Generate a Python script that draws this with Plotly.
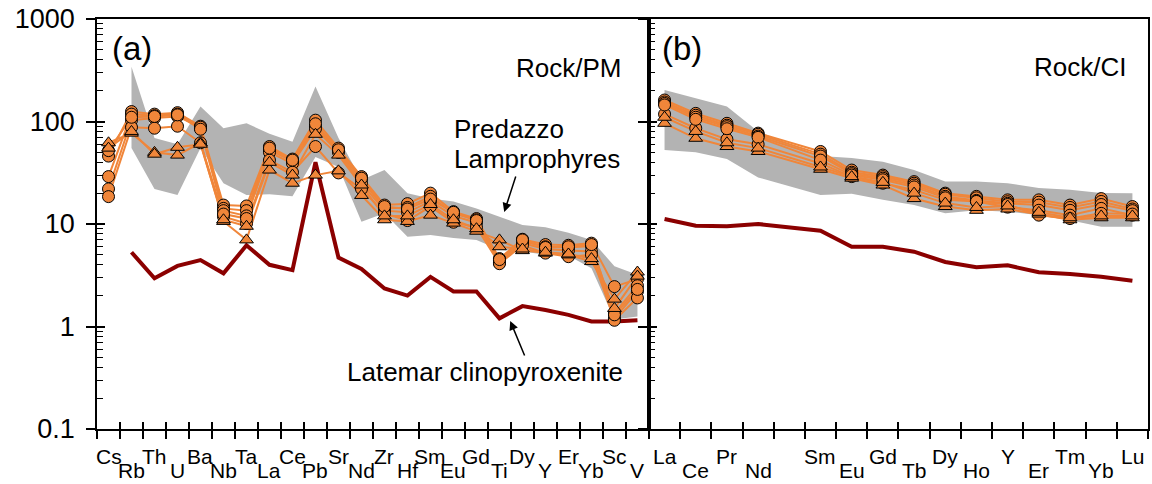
import plotly.graph_objects as go

# ---------------- data ----------------
elems_a = ["Cs", "Rb", "Th", "U", "Ba", "Nb", "Ta", "La", "Ce", "Pb", "Sr", "Nd",
           "Zr", "Hf", "Sm", "Eu", "Gd", "Ti", "Dy", "Y", "Er", "Yb", "Sc", "V"]
elems_b = ["La", "Ce", "Pr", "Nd", "", "Sm", "Eu", "Gd", "Tb", "Dy", "Ho", "Y",
           "Er", "Tm", "Yb", "Lu"]

ytick_vals = [0.1, 1, 10, 100, 1000]
ytick_text = ["0.1", "1", "10", "100", "1000"]
yminor_vals = [m * d for d in [0.1, 1, 10, 100] for m in range(2, 10)]

# Predazzo lamprophyres, Rock/PM (panel a)
a_c1 = [46, 125, 118, 122, 90, 15.3, 15, 57, 43, 103, 55, 29, 15.3, 15.8, 20, 13.2, 11.3, 4.6, 7.1, 6.3, 6.2, 6.5, 2.45, 2.9]
a_c2 = [29, 118, 114, 118, 86, 14.2, 13.5, 53, 41, 90, 52, 27.5, 14.2, 14.5, 18.6, 12.7, 11, 4.4, 6.8, 6.0, 5.9, 6.1, 1.35, 2.5]
a_c3 = [22, 103, 108, 112, 88, 13.5, 12, 50, 39, 85, 50, 25, 13.5, 13, 16.6, 12, 10.3, 4.2, 6.5, 5.7, 5.5, 5.4, 1.2, 2.2]
a_c4 = [18.5, 88, 86, 90, 62, 11.8, 10.1, 42, 32, 57, 31.5, 22, 12.7, 10.8, 14.8, 10.4, 9.3, 4.1, 6.2, 5.2, 4.8, 5.0, 1.15, 1.9]
a_c5 = [52, 110, 112, 116, 84, 12.5, 11.3, 55, 42, 95, 53, 28, 14.8, 14, 17.5, 13, 10.8, 4.5, 7.0, 5.9, 6.0, 6.3, 1.3, 2.3]
a_t1 = [62, 77, 50, 47, 62, 10.6, 7.0, 33.6, 25, 30, 33, 19, 11, 10.6, 12.2, 10.2, 8.5, 7.0, 5.5, 5.2, 5.0, 4.3, 1.85, 3.4]
a_t2 = [55, 80, 48, 56, 60, 11, 9.5, 40, 30, 75, 47, 24, 12, 12, 15.5, 11, 9, 6.0, 5.7, 5.3, 5.1, 4.6, 1.5, 3.1]

# Predazzo lamprophyres, Rock/CI (panel b); Pm not analysed
b_c1 = [162, 120, 96, 77, None, 51, 33.6, 30, 25.9, 20, 18.6, 17.2, 17.2, 15.3, 17.7, 14.8]
b_c2 = [155, 115, 92, 75, None, 48, 32, 29, 25, 19.5, 18, 16.5, 16.3, 14.5, 16.6, 14]
b_c3 = [150, 110, 89, 72, None, 46, 31, 28, 24, 18.6, 17, 15.9, 15.3, 13.6, 15.5, 13.5]
b_c4 = [118, 86, 67, 60, None, 39, 29, 25, 21.5, 17.2, 16.6, 14.6, 13.6, 12.2, 14.2, 12.2]
b_c5 = [145, 105, 85, 70, None, 42, 30, 27, 23, 18, 16.6, 15.5, 12.2, 11.3, 12.7, 12.5]
b_t1 = [96, 68.6, 57, 51, None, 34.2, 28, 24, 17.7, 14.8, 13.6, 14, 12.5, 11, 11.5, 11.5]
b_t2 = [110, 80, 62, 55, None, 36, 29, 25.5, 20, 16, 14.5, 15, 13, 11.5, 12, 12]

samples_a = [a_c1, a_c2, a_c3, a_c4, a_c5, a_t1, a_t2]
samples_b = [b_c1, b_c2, b_c3, b_c4, b_c5, b_t1, b_t2]
sample_symbols = ["circle", "circle", "circle", "circle", "circle", "triangle-up", "triangle-up"]

# Grey field (literature lamprophyres)
field_a_upper = [None, 343, 69, 60, 140, 86, 96, 76, 63.5, 219, 69, 26.8, 33.6, 20, 17.7, 16.6, 14.2, 11.8, 9.8, 9.3, 8.2, 7.0, 3.87, 3.2]
field_a_lower = [None, 55, 22, 19.2, 55, 25, 19.2, 19.5, 18.6, 45, 36, 10.5, 12.7, 7.5, 7.8, 7.3, 7.0, 5.6, 5.4, 5.0, 4.9, 3.7, 1.17, 1.25]
field_b_upper = [203, 168, 140, 80, None, 46, 44, 40.5, 33.6, 26, 26, 25, 22.4, 21.6, 20.1, 20]
field_b_lower = [52.7, 50, 43, 28.5, None, 19.2, 19.7, 17.2, 15.3, 12.7, 13.6, 13.2, 12.2, 10.9, 9.4, 9.4]

# Latemar clinopyroxenite
latemar_a = [None, 5.3, 2.95, 3.9, 4.45, 3.3, 6.2, 4.0, 3.55, 40, 4.7, 3.65, 2.35, 2.0, 3.05, 2.2, 2.2, 1.2, 1.58, 1.45, 1.3, 1.12, 1.12, 1.15]
latemar_b = [11.2, 9.6, 9.5, 10.0, None, 8.6, 6.0, 6.0, 5.37, 4.26, 3.78, 3.95, 3.38, 3.26, 3.06, 2.8]

# ---------------- style ----------------
W, H = 1152, 484
ML, MR, MT, MB = 97, 2, 19, 55
PW, PH = W - ML - MR, H - MT - MB
SPLIT = 650
ORANGE = "#F0863A"
GREY = "#B3B3B3"
DARKRED = "#8B0000"
FONT = "Liberation Sans, Arial, sans-serif"


def px(xp):
    return (xp - ML) / PW


def py(yp):
    return (H - MB - yp) / PH


da = px(SPLIT)

fig = go.Figure()


def add_field(elems, upper, lower, xa, ya):
    idx = [i for i in range(len(elems)) if upper[i] is not None]
    xs = idx + idx[::-1]
    ys = [upper[i] for i in idx] + [lower[i] for i in idx[::-1]]
    fig.add_trace(go.Scatter(x=xs, y=ys, fill="toself", fillcolor=GREY, mode="lines",
                             line=dict(width=0, color=GREY), xaxis=xa, yaxis=ya,
                             showlegend=False, hoverinfo="skip"))


add_field(elems_a, field_a_upper, field_a_lower, "x", "y")
add_field(elems_b, field_b_upper, field_b_lower, "x2", "y2")

fig.add_trace(go.Scatter(x=list(range(len(elems_a))), y=latemar_a, mode="lines",
                         line=dict(color=DARKRED, width=4), connectgaps=False,
                         xaxis="x", yaxis="y", showlegend=False))
fig.add_trace(go.Scatter(x=list(range(len(elems_b))), y=latemar_b, mode="lines",
                         line=dict(color=DARKRED, width=4), connectgaps=True,
                         xaxis="x2", yaxis="y2", showlegend=False))

for elems, samples, xa, ya in [(elems_a, samples_a, "x", "y"), (elems_b, samples_b, "x2", "y2")]:
    xs = list(range(len(elems)))
    for s in samples:
        fig.add_trace(go.Scatter(x=xs, y=s, mode="lines", connectgaps=True,
                                 line=dict(color=ORANGE, width=2),
                                 xaxis=xa, yaxis=ya, showlegend=False))
    for s, sym in zip(samples, sample_symbols):
        fig.add_trace(go.Scatter(x=xs, y=s, mode="markers",
                                 marker=dict(symbol=sym, size=12, color=ORANGE,
                                             line=dict(color="black", width=1)),
                                 xaxis=xa, yaxis=ya, showlegend=False))

# dummy traces so overlay axes are drawn
for xa, ya in [("x3", "y3"), ("x4", "y4")]:
    fig.add_trace(go.Scatter(x=[None], y=[None], xaxis=xa, yaxis=ya,
                             showlegend=False, hoverinfo="skip"))

na, nb = len(elems_a), len(elems_b)
bounds_a = [i - 0.5 for i in range(na + 1)]
bounds_b = [i - 0.5 for i in range(nb + 1)]

base_ax = dict(showgrid=False, zeroline=False, linecolor="black", linewidth=1.5,
               tickcolor="black", tickwidth=1.5)

xaxis = dict(base_ax, domain=[0, da], range=[-0.5, na - 0.5], anchor="y", mirror=True,
             showline=True, tickmode="array", tickvals=bounds_a, ticks="outside",
             ticklen=8, showticklabels=False)
xaxis2 = dict(base_ax, domain=[da, 1], range=[-0.5, nb - 0.5], anchor="y2", mirror=True,
              showline=True, tickmode="array", tickvals=bounds_b, ticks="outside",
              ticklen=8, showticklabels=False)
xaxis3 = dict(base_ax, overlaying="x", range=[-0.5, na - 0.5], anchor="y",
              showline=False, tickmode="array", tickvals=bounds_a, ticks="inside",
              ticklen=7, showticklabels=False)
xaxis4 = dict(base_ax, overlaying="x2", range=[-0.5, nb - 0.5], anchor="y2",
              showline=False, tickmode="array", tickvals=bounds_b, ticks="inside",
              ticklen=7, showticklabels=False)

minor = dict(tickmode="array", tickvals=yminor_vals, ticks="inside", ticklen=6,
             tickcolor="black", tickwidth=1.2, showgrid=False)

yaxis = dict(base_ax, type="log", range=[-1, 3], domain=[0, 1], anchor="x",
             showline=True, mirror=True, tickmode="array", tickvals=ytick_vals,
             ticktext=ytick_text, ticks="outside", ticklen=9,
             tickfont=dict(size=27, family=FONT, color="black"),
             ticklabelstandoff=6, minor=minor)
yaxis2 = dict(base_ax, type="log", range=[-1, 3], domain=[0, 1], anchor="x2",
              showline=True, mirror=True, tickmode="array", tickvals=ytick_vals,
              ticks="outside", ticklen=9, showticklabels=False, minor=minor)
yaxis3 = dict(base_ax, type="log", range=[-1, 3], overlaying="y", anchor="x",
              showline=False, tickmode="array", tickvals=ytick_vals, ticks="inside",
              ticklen=8, showticklabels=False)
yaxis4 = dict(base_ax, type="log", range=[-1, 3], overlaying="y2", anchor="x2",
              showline=False, tickmode="array", tickvals=ytick_vals, ticks="inside",
              ticklen=8, showticklabels=False)

annotations = []
UP = py(456)
LOW_BOTTOM = py(H - 0.5)
lbl_font = dict(size=21, family=FONT, color="black")


def add_label(x, xref, upper, name):
    if upper:
        annotations.append(dict(x=x, xref=xref, y=UP, yref="paper", text=name,
                                showarrow=False, xanchor="center", yanchor="middle",
                                font=lbl_font))
    else:
        annotations.append(dict(x=x, xref=xref, y=LOW_BOTTOM, yref="paper", text=name,
                                showarrow=False, xanchor="center", yanchor="bottom",
                                font=lbl_font, borderpad=0))


for i, name in enumerate(elems_a):
    add_label(i, "x", i % 2 == 0, name)
k = 0
for i, name in enumerate(elems_b):
    if not name:
        continue
    add_label(i, "x2", k % 2 == 0, name)
    k += 1

big = dict(size=33, family=FONT, color="black")
txt = dict(size=26, family=FONT, color="black")
annotations += [
    dict(x=px(110), y=py(49), xref="paper", yref="paper", text="(a)", showarrow=False,
         xanchor="left", yanchor="middle", font=big),
    dict(x=px(661), y=py(49), xref="paper", yref="paper", text="(b)", showarrow=False,
         xanchor="left", yanchor="middle", font=big),
    dict(x=px(624), y=py(68), xref="paper", yref="paper", text="Rock/PM", showarrow=False,
         xanchor="right", yanchor="middle", font=txt),
    dict(x=px(1130), y=py(67), xref="paper", yref="paper", text="Rock/CI", showarrow=False,
         xanchor="right", yanchor="middle", font=txt),
    dict(x=px(453), y=py(129), xref="paper", yref="paper", text="Predazzo", showarrow=False,
         xanchor="left", yanchor="middle", font=txt),
    dict(x=px(453), y=py(159), xref="paper", yref="paper", text="Lamprophyres", showarrow=False,
         xanchor="left", yanchor="middle", font=txt),
    dict(x=px(345), y=py(372), xref="paper", yref="paper", text="Latemar clinopyroxenite",
         showarrow=False, xanchor="left", yanchor="middle", font=txt),
    dict(x=px(505), y=py(212), xref="paper", yref="paper", text="", showarrow=True,
         ax=12, ay=-37, arrowhead=2, arrowsize=1.2, arrowwidth=1.5, arrowcolor="black"),
    dict(x=px(511), y=py(321), xref="paper", yref="paper", text="", showarrow=True,
         ax=15, ay=36, arrowhead=2, arrowsize=1.2, arrowwidth=1.5, arrowcolor="black"),
]

fig.update_layout(
    width=W, height=H,
    margin=dict(l=ML, r=MR, t=MT, b=MB, pad=0),
    paper_bgcolor="white", plot_bgcolor="white",
    showlegend=False,
    xaxis=xaxis, xaxis2=xaxis2, xaxis3=xaxis3, xaxis4=xaxis4,
    yaxis=yaxis, yaxis2=yaxis2, yaxis3=yaxis3, yaxis4=yaxis4,
    annotations=annotations,
    font=dict(family=FONT, color="black"),
)

fig.write_html("out.html")
